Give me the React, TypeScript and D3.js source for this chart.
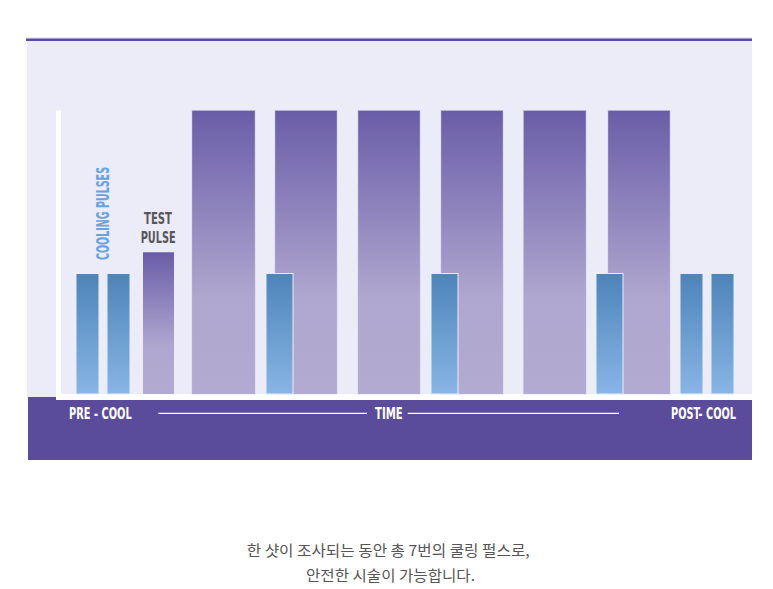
import React from "react";
import * as d3 from "d3";

// time axis in ms-like units; level in % of heating energy
const heatingStart = [136, 219, 302, 385, 467.5, 552];
const heatingEnd = [199, 281, 364, 447, 530, 614];
const heatingLevel = [100, 100, 100, 100, 100, 100];

const testStart = [87];
const testEnd = [118];
const testLevel = [50];

const coolingStart = [20, 51, 210, 375, 540, 624, 655];
const coolingEnd = [43, 74, 237, 402, 567, 647, 678];
const coolingLevel = [42.5, 42.5, 42.5, 42.5, 42.5, 42.5, 42.5];

const phaseLabels = ["PRE - COOL", "TIME", "POST- COOL"];
const caption = ["한 샷이 조사되는 동안 총 7번의 쿨링 펄스로,", "안전한 시술이 가능합니다."];

const W = 773;
const H = 589;

export default function App() {
  const x = d3.scaleLinear().domain([0, 696]).range([56, 752]);
  const y = d3.scaleLinear().domain([0, 100]).range([394, 110.5]);

  const heating = heatingStart.map((s, i) => ({ s, e: heatingEnd[i], v: heatingLevel[i] }));
  const tests = testStart.map((s, i) => ({ s, e: testEnd[i], v: testLevel[i] }));
  const cooling = coolingStart.map((s, i) => ({ s, e: coolingEnd[i], v: coolingLevel[i] }));

  const condensed = "'Liberation Sans Narrow', 'DejaVu Sans Condensed', 'Arial Narrow', sans-serif";

  return (
    <svg
      width={W}
      height={H}
      viewBox={`0 0 ${W} ${H}`}
      style={{ position: "absolute", left: 0, top: 0, background: "#ffffff" }}
    >
      <defs>
        <linearGradient id="heatGrad" x1="0" y1="0" x2="0" y2="1">
          <stop offset="0" stopColor="#6A5DA8" />
          <stop offset="0.66" stopColor="#AFA7CF" />
          <stop offset="1" stopColor="#B2AAD0" />
        </linearGradient>
        <linearGradient id="coolGrad" x1="0" y1="0" x2="0" y2="1">
          <stop offset="0" stopColor="#4D84B9" />
          <stop offset="1" stopColor="#88B5E5" />
        </linearGradient>
      </defs>

      {/* top rule */}
      <rect x={26} y={37.5} width={726} height={1} fill="#DAD6EC" />
      <rect x={26} y={38.5} width={726} height={2.5} fill="#5A4BA0" />
      {/* panel */}
      <rect x={27} y={41} width={725} height={357} fill="#ECECF8" />
      {/* bottom band */}
      <rect x={28} y={397} width={724} height={63} fill="#5A4B9B" />

      {/* white axis L */}
      <rect x={56} y={110.5} width={5} height={289.5} fill="#ffffff" />
      <rect x={56} y={394} width={696} height={6} fill="#ffffff" />

      {/* heating pulses */}
      {heating.map((d, i) => (
        <rect
          key={"h" + i}
          x={x(d.s)}
          y={y(d.v)}
          width={x(d.e) - x(d.s)}
          height={y(0) - y(d.v)}
          fill="url(#heatGrad)"
          stroke="#C2BCE0"
          strokeOpacity={0.6}
          strokeWidth={0.8}
        />
      ))}
      {tests.map((d, i) => (
        <rect
          key={"t" + i}
          x={x(d.s)}
          y={y(d.v)}
          width={x(d.e) - x(d.s)}
          height={y(0) - y(d.v)}
          fill="url(#heatGrad)"
        />
      ))}
      {/* cooling pulses */}
      {cooling.map((d, i) => (
        <rect
          key={"c" + i}
          x={x(d.s)}
          y={y(d.v)}
          width={x(d.e) - x(d.s)}
          height={y(0) - y(d.v)}
          fill="url(#coolGrad)"
          stroke="#E6EEF8"
          strokeWidth={1}
        />
      ))}

      {/* annotations */}
      <text
        transform="translate(109.3,260) rotate(-90)"
        fontFamily={condensed}
        fontWeight="bold"
        fontSize={17.5}
        fill="#6AA2DD"
        textLength={93}
        lengthAdjust="spacingAndGlyphs"
      >
        COOLING PULSES
      </text>
      <text
        x={144}
        y={224}
        fontFamily={condensed}
        fontWeight="bold"
        fontSize={15.5}
        fill="#575759"
        textLength={28}
        lengthAdjust="spacingAndGlyphs"
      >
        TEST
      </text>
      <text
        x={140.7}
        y={242.7}
        fontFamily={condensed}
        fontWeight="bold"
        fontSize={15.5}
        fill="#575759"
        textLength={35}
        lengthAdjust="spacingAndGlyphs"
      >
        PULSE
      </text>

      {/* phase labels */}
      <text
        x={69}
        y={419}
        fontFamily={condensed}
        fontWeight="bold"
        fontSize={15.5}
        fill="#ffffff"
        textLength={62.7}
        lengthAdjust="spacingAndGlyphs"
      >
        {phaseLabels[0]}
      </text>
      <line x1={158.3} x2={367} y1={413.3} y2={413.3} stroke="#ffffff" strokeWidth={1.2} />
      <text
        x={375}
        y={419}
        fontFamily={condensed}
        fontWeight="bold"
        fontSize={15.5}
        fill="#ffffff"
        textLength={27.7}
        lengthAdjust="spacingAndGlyphs"
      >
        {phaseLabels[1]}
      </text>
      <line x1={407.7} x2={619} y1={413.3} y2={413.3} stroke="#ffffff" strokeWidth={1.2} />
      <text
        x={671}
        y={419}
        fontFamily={condensed}
        fontWeight="bold"
        fontSize={15.5}
        fill="#ffffff"
        textLength={65}
        lengthAdjust="spacingAndGlyphs"
      >
        {phaseLabels[2]}
      </text>

      {/* caption */}
      <text
        x={246.7}
        y={555.5}
        fontFamily="'Noto Sans CJK KR', sans-serif"
        fontSize={15}
        fill="#555555"
        textLength={283}
        lengthAdjust="spacingAndGlyphs"
      >
        {caption[0]}
      </text>
      <text
        x={306}
        y={581}
        fontFamily="'Noto Sans CJK KR', sans-serif"
        fontSize={15}
        fill="#555555"
        textLength={169}
        lengthAdjust="spacingAndGlyphs"
      >
        {caption[1]}
      </text>
    </svg>
  );
}
